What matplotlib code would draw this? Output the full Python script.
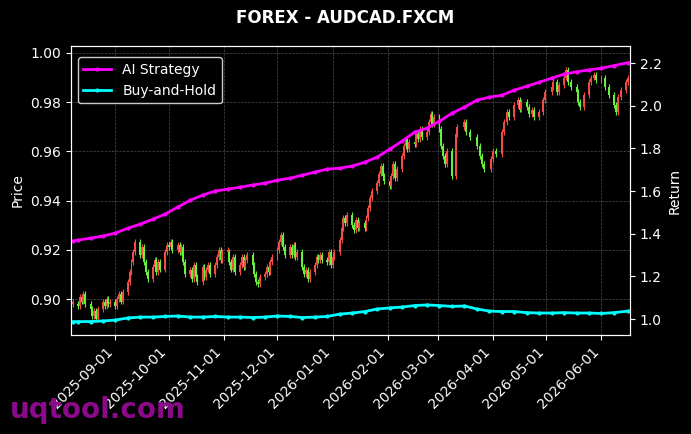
import pandas as pd
import numpy as np
import matplotlib
matplotlib.use('Agg')
import matplotlib.pyplot as plt
import matplotlib.dates as mdates

# daily closes (business days from 2025-08-08), None = no bar that day
start_date = '2025-08-08'
closes = [
    0.898,
    0.897, 0.901, 0.899, 0.902, 0.898,   # Aug 11
    0.896, 0.893, 0.895, 0.892, 0.896,   # Aug 18
    0.899, 0.897, 0.900, 0.898, 0.899,   # Aug 25
    0.897, 0.900, 0.902, 0.899, 0.903,   # Sep 1
    0.907, 0.911, 0.915, 0.919, 0.923,   # Sep 8
    0.918, 0.921, 0.915, 0.911, 0.908,   # Sep 15
    0.913, 0.916, 0.911, 0.915, 0.912,   # Sep 22
    0.919, 0.922, 0.921, 0.923, 0.920,   # Sep 29
    0.922, 0.919, 0.921, 0.915, 0.910,   # Oct 6
    0.912, 0.908, 0.914, 0.909, 0.907,   # Oct 13
    0.913, 0.909, 0.912, 0.914, 0.910,   # Oct 20
    0.914, 0.917, 0.920, 0.916, 0.919,   # Oct 27
    0.919, 0.915, 0.912, 0.917, 0.911,   # Nov 3
    0.914, 0.917, 0.913, 0.916, 0.918,   # Nov 10
    0.914, 0.910, 0.907, 0.906, 0.909,   # Nov 17
    0.910, 0.913, 0.911, 0.915, 0.917,   # Nov 24
    0.920, 0.923, 0.926, 0.921, 0.918,   # Dec 1
    0.921, 0.918, 0.922, 0.917, 0.919,   # Dec 8
    0.913, 0.910, 0.912, 0.908, 0.911,   # Dec 15
    0.914, 0.917, 0.916, 0.918, 0.916,   # Dec 22
    0.915, 0.919, 0.914, 0.917, 0.919,   # Dec 29
    0.924, 0.929, 0.933, 0.931, 0.934,   # Jan 5
    0.930, 0.928, 0.932, 0.929, 0.931,   # Jan 12
    0.929, 0.933, 0.937, 0.941, 0.944,   # Jan 19
    0.947, 0.951, 0.954, 0.950, 0.948,   # Jan 26
    0.946, 0.950, 0.955, 0.949, 0.953,   # Feb 2
    0.958, 0.962, 0.965, 0.961, 0.964,   # Feb 9
    0.963, 0.967, 0.965, 0.969, 0.966,   # Feb 16
    0.968, 0.972, 0.975, 0.971, 0.974,   # Feb 23
    0.969, 0.962, 0.958, 0.955, 0.960,   # Mar 2
    0.950, None, 0.967, 0.970, None,     # Mar 9
    0.972, 0.968, None, 0.966, None,     # Mar 16
    0.962, None, 0.958, 0.955, 0.953,    # Mar 23
    None, 0.957, 0.960, None, 0.959,     # Mar 30
    0.968, 0.972, None, 0.976, 0.974,    # Apr 6
    0.979, None, 0.981, 0.977, 0.980,    # Apr 13
    0.978, 0.975, None, 0.977, 0.974,    # Apr 20
    0.976, None, 0.981, 0.984, None,     # Apr 27
    0.986, 0.988, None, 0.984, 0.987,    # May 4
    0.990, 0.993, 0.988, None, 0.986,    # May 11
    0.984, 0.980, 0.978, None, 0.983,    # May 18
    0.988, 0.990, None, 0.991, 0.989,    # May 25
    0.990, None, 0.986, None, 0.983,     # Jun 1
    0.979, 0.976, 0.982, None, 0.985,    # Jun 8
    0.988, 0.990,                        # Jun 15
]

# weekly cumulative returns
ret_dates = ['2025-08-08'] + [d.strftime('%Y-%m-%d') for d in
             pd.date_range('2025-08-11', '2026-06-08', freq='W-MON')] + ['2026-06-16']
ai_strategy = [1.365, 1.370, 1.379, 1.389, 1.403, 1.426, 1.445, 1.468, 1.492, 1.525,
               1.557, 1.581, 1.600, 1.609, 1.618, 1.628, 1.637, 1.651, 1.660, 1.674,
               1.689, 1.703, 1.707, 1.717, 1.735, 1.759, 1.796, 1.834, 1.876, 1.895,
               1.927, 1.965, 1.993, 2.026, 2.040, 2.049, 2.073, 2.091, 2.110, 2.129,
               2.148, 2.159, 2.168, 2.176, 2.188, 2.202]
buy_hold = [0.987, 0.988, 0.988, 0.991, 0.995, 1.005, 1.009, 1.009, 1.012, 1.014,
            1.009, 1.009, 1.012, 1.009, 1.009, 1.007, 1.009, 1.014, 1.012, 1.007,
            1.009, 1.012, 1.023, 1.028, 1.035, 1.047, 1.052, 1.056, 1.063, 1.066,
            1.063, 1.059, 1.061, 1.047, 1.037, 1.035, 1.035, 1.030, 1.028, 1.028,
            1.030, 1.028, 1.028, 1.026, 1.030, 1.037]

UP = '#f24c44'     # red = rise
DOWN = '#66f23c'   # green = fall
WICK = 0.0012      # wick stub drawn past the body

dates = pd.bdate_range(start_date, periods=len(closes))
bar_x, bar_bottom, bar_h, bar_c = [], [], [], []
prev = closes[0]
for d, c in zip(dates, closes):
    if c is None:
        continue
    o = prev
    bar_x.append(d)
    bar_bottom.append(min(o, c))
    bar_h.append(max(abs(c - o), 0.0008))
    bar_c.append(UP if c >= o else DOWN)
    prev = c

fig = plt.figure(figsize=(6.91, 4.34), dpi=100, facecolor='black')
ax1 = fig.add_axes([0.1027, 0.2281, 0.809, 0.6659])
ax1.set_facecolor('black')
lo = np.array(bar_bottom)
hi = lo + np.array(bar_h)
ax1.vlines(bar_x, lo - WICK, hi + WICK, colors=bar_c, linewidth=0.8, zorder=2)
ax1.bar(bar_x, bar_h, bottom=bar_bottom, width=1.1, color=bar_c, linewidth=0, zorder=3)
ax1.set_ylim(0.8854, 1.0028)
ax1.set_yticks([0.90, 0.92, 0.94, 0.96, 0.98, 1.00])
ax1.yaxis.set_major_formatter(matplotlib.ticker.FormatStrFormatter('%.2f'))
ax1.set_xlim(pd.Timestamp('2025-08-07'), pd.Timestamp('2026-06-17'))
ax1.xaxis.set_major_locator(mdates.MonthLocator(bymonthday=1))
ax1.xaxis.set_major_formatter(mdates.DateFormatter('%Y-%m-%d'))
plt.setp(ax1.get_xticklabels(), rotation=45, ha='right')
ax1.grid(True, color='gray', linestyle='--', linewidth=0.5, alpha=0.6)
ax1.set_ylabel('Price', color='white')

ax2 = ax1.twinx()
rd = pd.to_datetime(ret_dates)
ax2.plot(rd, ai_strategy, color='#ff00ff', linewidth=2, marker='o', markersize=2, label='AI Strategy')
ax2.plot(rd, buy_hold, color='#00ffff', linewidth=2, marker='o', markersize=2, label='Buy-and-Hold')
ax2.set_ylim(0.925, 2.28)
ax2.set_yticks([1.0, 1.2, 1.4, 1.6, 1.8, 2.0, 2.2])
ax2.set_ylabel('Return', color='white')

for ax in (ax1, ax2):
    ax.tick_params(colors='white', labelsize=10)
    for s in ax.spines.values():
        s.set_color('white')

leg = ax2.legend(loc='upper left', bbox_to_anchor=(0.0, 0.985), facecolor='black',
                 edgecolor='white', labelcolor='white', fontsize=10)

fig.suptitle('FOREX - AUDCAD.FXCM', color='white', fontweight='bold', fontsize=12, y=0.98)
fig.text(0.014, 0.037, 'uqtool.com', color='#8a0a8a', fontsize=20, fontweight='bold')

fig.savefig('out.png', dpi=100, facecolor='black')
